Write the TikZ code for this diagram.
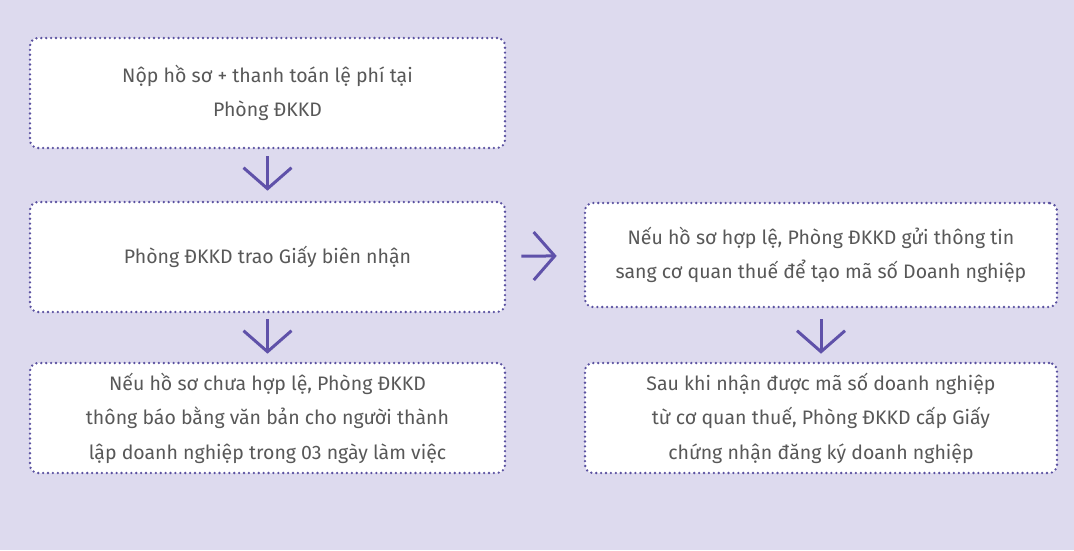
\documentclass[tikz,border=0pt]{standalone}
\usepackage{xcolor}
\usepackage{fontspec}
\setmainfont{Fira Sans}
\usepackage{tikz}
\usetikzlibrary{arrows.meta,positioning}

\definecolor{bgpurple}{HTML}{DDDAEE}
\definecolor{dotpurple}{HTML}{5A51A0}
\definecolor{arrpurple}{HTML}{5F51A9}
\definecolor{txtgray}{HTML}{585858}

\begin{document}
\begin{tikzpicture}[x=1pt, y=-1pt,
  box/.style={rectangle, rounded corners=8pt, draw=dotpurple, fill=white,
    line width=2.6pt, line cap=round, dash pattern=on 0pt off 4.9pt,
    minimum width=#1, align=center, text=txtgray,
    font=\fontsize{19.5}{34.5}\selectfont},
  box/.default=475pt,
  arr/.style={-{Straight Barb[length=21pt, width=48pt, line width=3pt]},
    line width=3pt, draw=arrpurple}]
  % Background
  \fill[bgpurple] (0,0) rectangle (1074,550);
  % Left column
  \node[box, minimum height=110pt] (submit) at (267.5,93)
    {Nộp hồ sơ + thanh toán lệ phí tại\\Phòng ĐKKD};
  \node[box, minimum height=110pt] (receipt) at (267.5,257)
    {Phòng ĐKKD trao Giấy biên nhận};
  \node[box, minimum height=110pt] (invalid) at (267.5,418)
    {Nếu hồ sơ chưa hợp lệ, Phòng ĐKKD\\thông báo bằng văn bản cho người thành\\lập doanh nghiệp trong 03 ngày làm việc};
  % Right column
  \node[box=472pt, minimum height=104pt] (taxinfo) at (821,255)
    {Nếu hồ sơ hợp lệ, Phòng ĐKKD gửi thông tin\\sang cơ quan thuế để tạo mã số Doanh nghiệp};
  \node[box=472pt, minimum height=110pt] (certif) at (821,418)
    {Sau khi nhận được mã số doanh nghiệp\\từ cơ quan thuế, Phòng ĐKKD cấp Giấy\\chứng nhận đăng ký doanh nghiệp};
  % Arrows
  \draw[arr, shorten <=7pt, shorten >=10pt] (submit) -- (receipt);
  \draw[arr, shorten <=6pt, shorten >=8pt] (receipt) -- (invalid);
  \draw[arr, shorten <=15pt, shorten >=27pt] (receipt) -- (taxinfo);
  \draw[arr, shorten <=11pt, shorten >=8pt] (taxinfo) -- (certif);
\end{tikzpicture}
\end{document}
